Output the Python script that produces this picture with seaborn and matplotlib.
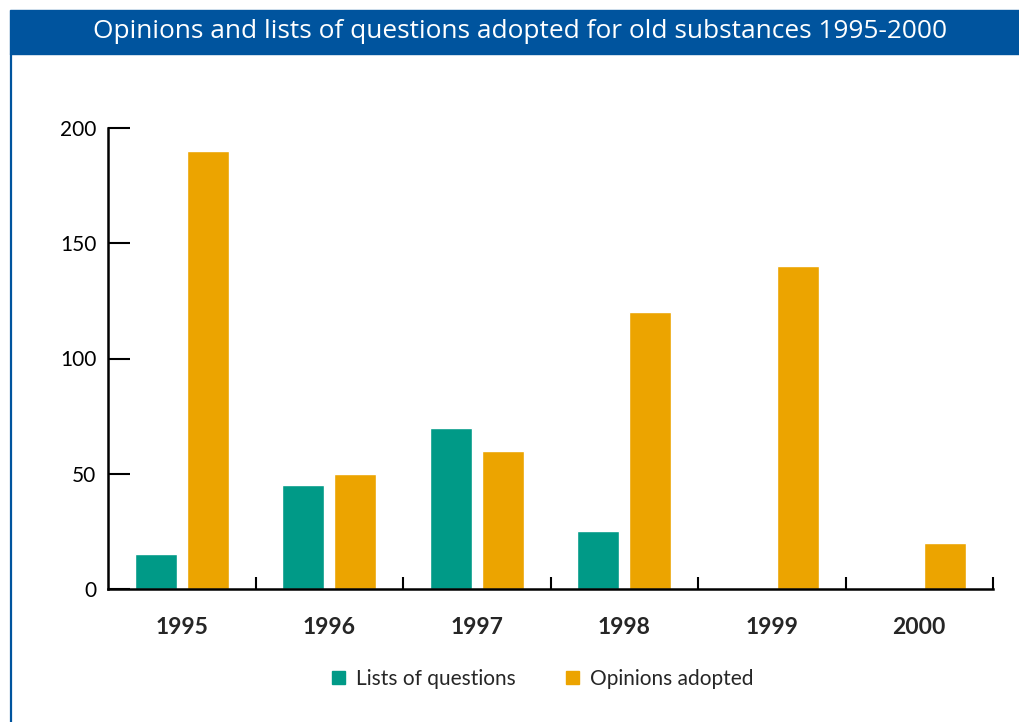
import matplotlib
matplotlib.use("Agg")
import matplotlib.pyplot as plt
from matplotlib.patches import Rectangle
from matplotlib.lines import Line2D
import seaborn as sns
import pandas as pd

years = ["1995", "1996", "1997", "1998", "1999", "2000"]
lists_of_questions = [15, 45, 70, 25, 0, 0]
opinions_adopted = [190, 50, 60, 120, 140, 20]
series_names = ["Lists of questions", "Opinions adopted"]
colors = ["#009a87", "#eca400"]
title = "Opinions and lists of questions adopted for old substances 1995-2000"

df = pd.DataFrame({
    "year": years * 2,
    "value": lists_of_questions + opinions_adopted,
    "series": [series_names[0]] * len(years) + [series_names[1]] * len(years),
})

sns.set_theme(style="white")
plt.rcParams["font.family"] = ["Lato", "DejaVu Sans"]

fig = plt.figure(figsize=(10.19, 7.22), dpi=100)
ax = fig.add_axes([108 / 1019, 1 - 589 / 722, (993 - 108) / 1019, (589 - 128) / 722])

sns.barplot(data=df, x="year", y="value", hue="series", order=years,
            hue_order=series_names, palette=colors, width=0.705, gap=0.19,
            saturation=1, ax=ax, legend=False)

ax.set_xlim(-0.5, len(years) - 0.5)
ax.set_ylim(0, 200)
ax.set_yticks([0, 50, 100, 150, 200])
ax.set_xlabel("")
ax.set_ylabel("")
for s in ["top", "right"]:
    ax.spines[s].set_visible(False)
for s in ["left", "bottom"]:
    ax.spines[s].set_color("black")
    ax.spines[s].set_linewidth(1.8)

ax.tick_params(axis="y", direction="in", length=16, width=1.5, colors="black",
               labelsize=15, pad=8.5, left=True)
ax.tick_params(axis="x", which="major", length=0, labelsize=16.5, pad=20)
for lab in ax.get_xticklabels():
    lab.set_fontweight("bold")
ax.set_xticks([i + 0.5 for i in range(len(years))], minor=True)
ax.tick_params(axis="x", which="minor", direction="in", length=9, width=1.5,
               color="black", bottom=True)

blue = "#00549e"
fig.patches.append(Rectangle((10 / 1019, 1 - 54 / 722), 1 - 10 / 1019, 44 / 722,
                             transform=fig.transFigure, color=blue, zorder=0))
fig.lines.append(Line2D([10.5 / 1019, 10.5 / 1019], [0, 1 - 54 / 722],
                        transform=fig.transFigure, color=blue, linewidth=1.6))
fig.text(520 / 1019, 1 - 31 / 722, title, color="white", fontsize=18.9,
         ha="center", va="center", family=["Open Sans", "DejaVu Sans"])

handles = [Rectangle((0, 0), 1, 1, color=c) for c in colors]
fig.legend(handles, series_names, loc="center", bbox_to_anchor=(543 / 1019, 1 - 679 / 722),
           ncol=2, frameon=False, fontsize=15, handlelength=0.62, handleheight=0.62,
           handletextpad=0.55, columnspacing=2.4)

fig.savefig("out.png", dpi=100)
